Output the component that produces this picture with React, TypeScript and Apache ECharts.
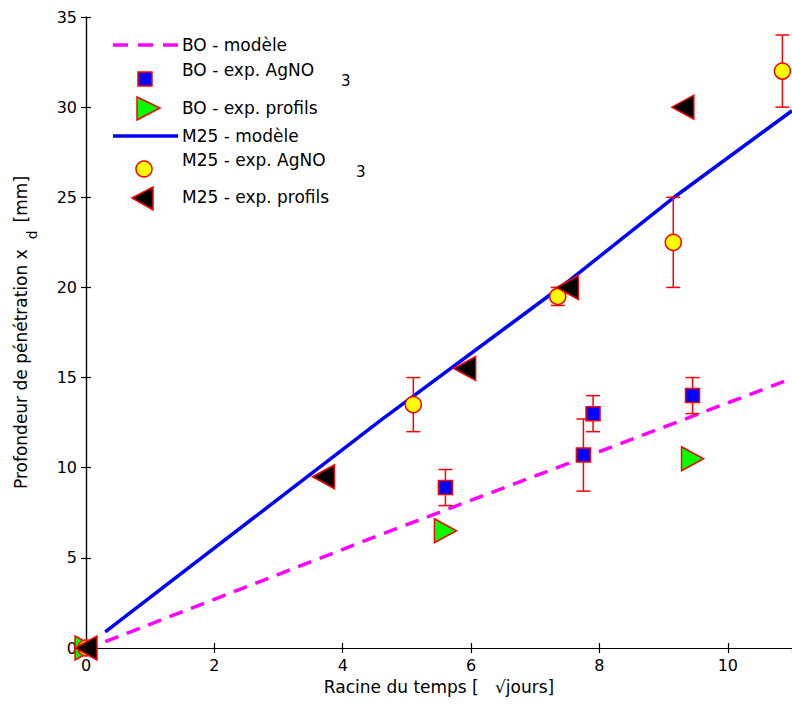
import React, { useEffect, useRef } from "react";
import * as echarts from "echarts";

const FONT = "DejaVu Sans";

// Model curves (x = sqrt(days), y = depth mm)
const boModel: number[][] = [[0.3, 0.35], [4.6, 6.3], [10, 13.6], [11, 14.95]];
const m25Model: number[][] = [[0.3, 0.9], [4.6, 12.65], [7.5, 20.3], [9.2, 25.1], [11, 29.8]];

// BO experimental AgNO3
const boAgnoX = [0, 5.6, 7.75, 7.9, 9.45];
const boAgnoY = [0, 8.9, 10.7, 13, 14];
const boAgnoErr = [0, 1, 2, 1, 1];

// BO experimental profils
const boProfX = [0, 5.6, 9.45];
const boProfY = [0, 6.5, 10.5];

// M25 experimental AgNO3
const m25AgnoX = [0, 5.1, 7.35, 9.15, 10.85];
const m25AgnoY = [0, 13.5, 19.5, 22.5, 32];
const m25AgnoErr = [0, 1.5, 0.5, 2.5, 2];

// M25 experimental profils
const m25ProfX = [0, 3.7, 5.9, 7.5, 9.3];
const m25ProfY = [0, 9.5, 15.5, 20, 30];

const legendNames = [
  "BO - modèle",
  "BO - exp. AgNO",
  "BO - exp. profils",
  "M25 - modèle",
  "M25 - exp. AgNO",
  "M25 - exp. profils",
];

function pairs(xs: number[], ys: number[]) {
  return xs.map((x, i) => [x, ys[i]]);
}
function errData(xs: number[], ys: number[], es: number[]) {
  return xs
    .map((x, i) => [x, ys[i], ys[i] - es[i], ys[i] + es[i]])
    .filter((_, i) => es[i] > 0);
}

const errRender = (params: any, api: any) => {
  const x = api.value(0);
  const lo = api.value(2);
  const hi = api.value(3);
  const pLo = api.coord([x, lo]);
  const pHi = api.coord([x, hi]);
  const w = 7;
  const style = { stroke: "#ff0000", lineWidth: 1.5 };
  return {
    type: "group",
    children: [
      { type: "line", shape: { x1: pLo[0], y1: pLo[1], x2: pHi[0], y2: pHi[1] }, style },
      { type: "line", shape: { x1: pLo[0] - w, y1: pLo[1], x2: pLo[0] + w, y2: pLo[1] }, style },
      { type: "line", shape: { x1: pHi[0] - w, y1: pHi[1], x2: pHi[0] + w, y2: pHi[1] }, style },
    ],
  };
};

export default function App() {
  const ref = useRef<HTMLDivElement>(null);
  useEffect(() => {
    if (!ref.current) return;
    const chart = echarts.init(ref.current, null, { renderer: "svg" });
    const axisCommon = {
      type: "value" as const,
      axisLine: { show: true, lineStyle: { color: "#000", width: 1.2 } },
      axisTick: { show: true, inside: true, length: 5, lineStyle: { color: "#000", width: 1.2 } },
      splitLine: { show: false },
    };
    const textBase = { fontFamily: FONT, fontSize: 17, fill: "#000" };
    const graphic: any[] = [
      { type: "line", shape: { x1: 113, y1: 45, x2: 178, y2: 45 }, style: { stroke: "#ff00ff", lineWidth: 3.5, lineDash: [15, 10] } },
      { type: "text", x: 182, y: 45, style: { ...textBase, text: legendNames[0], verticalAlign: "middle" } },
      { type: "rect", shape: { x: 138, y: 72, width: 14, height: 14 }, style: { fill: "#0000ff", stroke: "#ff0000", lineWidth: 1.5 } },
      { type: "text", x: 182, y: 70, style: { ...textBase, text: legendNames[1], verticalAlign: "middle" } },
      { type: "text", x: 341, y: 81, style: { ...textBase, fontSize: 15, text: "3", verticalAlign: "middle" } },
      { type: "polygon", shape: { points: [[137, 97], [160, 108], [137, 120]] }, style: { fill: "#00ff00", stroke: "#ff0000", lineWidth: 1.5 } },
      { type: "text", x: 182, y: 108, style: { ...textBase, text: legendNames[2], verticalAlign: "middle" } },
      { type: "line", shape: { x1: 113, y1: 136, x2: 178, y2: 136 }, style: { stroke: "#0000ff", lineWidth: 3.5 } },
      { type: "text", x: 182, y: 136, style: { ...textBase, text: legendNames[3], verticalAlign: "middle" } },
      { type: "circle", shape: { cx: 144, cy: 169, r: 8 }, style: { fill: "#ffff00", stroke: "#ff0000", lineWidth: 1.5 } },
      { type: "text", x: 182, y: 160, style: { ...textBase, text: legendNames[4], verticalAlign: "middle" } },
      { type: "text", x: 356, y: 172, style: { ...textBase, fontSize: 15, text: "3", verticalAlign: "middle" } },
      { type: "polygon", shape: { points: [[132, 198], [153, 187], [153, 210]] }, style: { fill: "#000000", stroke: "#ff0000", lineWidth: 1.5 } },
      { type: "text", x: 182, y: 197, style: { ...textBase, text: legendNames[5], verticalAlign: "middle" } },
    ];
    chart.setOption({
      animation: false,
      backgroundColor: "#fff",
      grid: { left: 86, top: 17, right: -1, bottom: 60, containLabel: false },
      xAxis: [
        {
          ...axisCommon,
          position: "bottom",
          min: 0,
          max: 11,
          interval: 2,
          axisLabel: { show: true, margin: 9, color: "#000", fontFamily: FONT, fontSize: 16, showMaxLabel: false },
          name: "Racine du temps [   √jours]",
          nameLocation: "middle",
          nameGap: 30,
          nameTextStyle: { color: "#000", fontFamily: FONT, fontSize: 17 },
        },
        {
          ...axisCommon,
          position: "top",
          min: 0,
          max: 11,
          interval: 2,
          axisLabel: { show: false },
        },
      ],
      yAxis: [
        {
          ...axisCommon,
          position: "left",
          min: 0,
          max: 35,
          interval: 5,
          axisLabel: { show: true, margin: 9, color: "#000", fontFamily: FONT, fontSize: 16 },
          name: "Profondeur de pénétration x{sub|d}[mm]",
          nameLocation: "middle",
          nameGap: 47,
          nameTextStyle: {
            color: "#000",
            fontFamily: FONT,
            fontSize: 17,
            rich: {
              sub: { fontFamily: FONT, fontSize: 14, color: "#000", padding: [22, 8, 0, 10] },
            },
          },
        },
        {
          ...axisCommon,
          position: "right",
          min: 0,
          max: 35,
          interval: 5,
          axisLabel: { show: false },
        },
      ],
      graphic,
      series: [
        {
          name: legendNames[0],
          type: "line",
          data: boModel,
          showSymbol: false,
          symbol: "none",
          lineStyle: { color: "#ff00ff", width: 3.5, type: [14, 9] },
          z: 2,
        },
        {
          name: "BO err",
          type: "custom",
          renderItem: errRender,
          data: errData(boAgnoX, boAgnoY, boAgnoErr),
          z: 3,
          clip: false,
        },
        {
          name: legendNames[1],
          type: "scatter",
          data: pairs(boAgnoX, boAgnoY),
          symbol: "rect",
          symbolSize: 14,
          itemStyle: { color: "#0000ff", borderColor: "#ff0000", borderWidth: 1.5, opacity: 1 },
          clip: false,
          z: 4,
        },
        {
          name: legendNames[2],
          type: "scatter",
          data: pairs(boProfX, boProfY),
          symbol: "triangle",
          symbolSize: [24, 22],
          symbolRotate: -90,
          itemStyle: { color: "#00ff00", borderColor: "#ff0000", borderWidth: 1.5, opacity: 1 },
          clip: false,
          z: 4,
        },
        {
          name: legendNames[3],
          type: "line",
          data: m25Model,
          showSymbol: false,
          symbol: "none",
          lineStyle: { color: "#0000ff", width: 3.5 },
          z: 2,
        },
        {
          name: "M25 err",
          type: "custom",
          renderItem: errRender,
          data: errData(m25AgnoX, m25AgnoY, m25AgnoErr),
          z: 3,
          clip: false,
        },
        {
          name: legendNames[4],
          type: "scatter",
          data: pairs(m25AgnoX, m25AgnoY),
          symbol: "circle",
          symbolSize: 16,
          itemStyle: { color: "#ffff00", borderColor: "#ff0000", borderWidth: 1.5, opacity: 1 },
          clip: false,
          z: 4,
        },
        {
          name: legendNames[5],
          type: "scatter",
          data: pairs(m25ProfX, m25ProfY),
          symbol: "triangle",
          symbolSize: [24, 22],
          symbolRotate: 90,
          itemStyle: { color: "#000000", borderColor: "#ff0000", borderWidth: 1.5, opacity: 1 },
          clip: false,
          z: 5,
        },
      ],
    });
    return () => chart.dispose();
  }, []);
  return (
    <div
      ref={ref}
      style={{ position: "absolute", left: 0, top: 0, width: 792, height: 708 }}
    />
  );
}
